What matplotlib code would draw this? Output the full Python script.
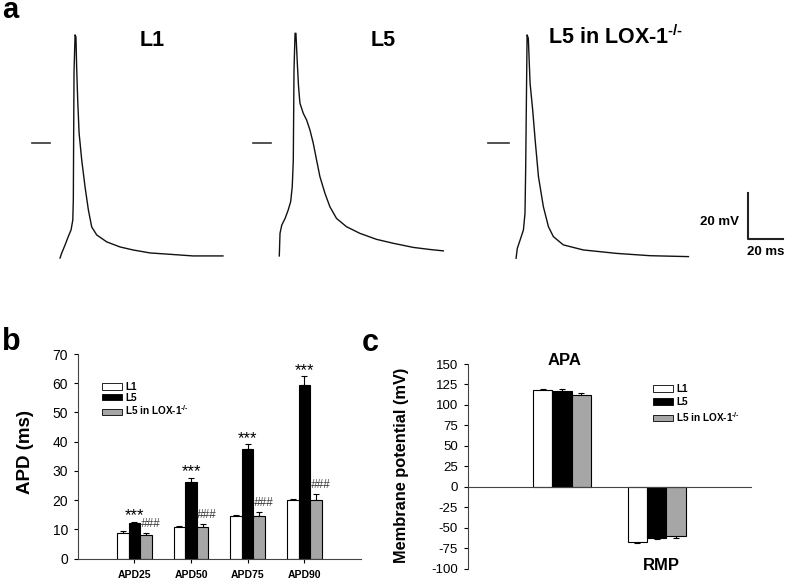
import numpy as np
import matplotlib
matplotlib.use("Agg")
from matplotlib import pyplot as plt
from matplotlib.patches import Patch

plt.rcParams["font.family"] = ["Liberation Sans", "DejaVu Sans"]
plt.rcParams["font.weight"] = "bold"
plt.rcParams["mathtext.fontset"] = "custom"
plt.rcParams["mathtext.rm"] = "Liberation Sans:bold"
plt.rcParams["mathtext.bf"] = "Liberation Sans:bold"
plt.rcParams["mathtext.default"] = "bf"
plt.rcParams["axes.unicode_minus"] = False

# panel a: action potential traces, time (ms) vs voltage (mV)
l1_t = [0, 1.0, 2.9, 4.7, 6.3, 7.3, 7.6, 7.8, 8.0, 8.6, 9.1, 9.5, 10.1, 10.9, 12.4,
        14.3, 16.2, 18.1, 21.0, 26.7, 34.3, 41.7, 51.4, 61.1, 76.0, 93.1]
l1_v = [-50.0, -47.8, -44.3, -40.7, -37.8, -33.5, -24.8, 4.3, 30.9, 47.0, 46.1, 33.0,
        18.7, 4.3, -7.4, -19.1, -29.1, -36.5, -40.0, -43.0, -45.2, -46.5, -47.8,
        -48.3, -49.1, -49.1]
l5_t = [0, 0.4, 1.4, 3.3, 5.1, 6.5, 7.4, 8.0, 8.4, 9.0, 9.5, 10.3, 11.0, 11.8, 13.7,
        15.6, 17.5, 19.4, 21.3, 23.2, 26.1, 28.9, 32.7, 38.4, 46.1, 55.6, 65.1, 76.6,
        86.1, 93.7]
l5_v = [-49.1, -39.3, -35.7, -32.8, -29.1, -25.5, -19.0, -7.4, 31.7, 47.7, 47.7, 34.6,
        24.5, 17.3, 12.9, 10.0, 5.7, -0.1, -7.4, -14.6, -21.9, -27.7, -32.8, -36.4,
        -39.3, -41.9, -43.6, -45.4, -46.3, -46.9]
lox_t = [0, 0.7, 2.3, 4.2, 5.1, 5.5, 5.9, 6.3, 7.0, 8.0, 9.5, 10.9, 12.8, 15.6, 18.5,
         21.3, 27.0, 38.4, 57.5, 76.6, 98.5]
lox_v = [-50.1, -45.8, -42.2, -37.8, -30.6, -10.3, 18.7, 47.0, 45.5, 26.0, 14.3, 1.3,
         -14.7, -27.7, -36.4, -40.7, -44.3, -46.5, -48.0, -49.0, -49.4]
trace_names = ["L1", "L5", r"L5 in LOX-1$^{\text{-/-}}$"]

# panel b: APD (ms)
apd_groups = ["APD25", "APD50", "APD75", "APD90"]
apd_l1 = [8.7, 10.8, 14.5, 20.0]
apd_l1_err = [0.8, 0.3, 0.3, 0.5]
apd_l5 = [12.3, 26.2, 37.5, 59.5]
apd_l5_err = [0.3, 1.5, 1.7, 2.9]
apd_lox = [8.0, 10.8, 14.7, 20.0]
apd_lox_err = [0.7, 0.9, 1.1, 2.0]

# panel c: membrane potential (mV)
mp_groups = ["APA", "RMP"]
mp_l1 = [118.2, -66.9]
mp_l1_err = [0.8, 1.2]
mp_l5 = [117.4, -62.8]
mp_l5_err = [1.6, 0.8]
mp_lox = [112.1, -60.3]
mp_lox_err = [2.5, 2.0]

series_names = ["L1", "L5", r"L5 in LOX-1$^{\text{-/-}}$"]
colors = ["white", "black", "#a6a6a6"]

W, H = 787, 579
fig = plt.figure(figsize=(W / 100, H / 100), dpi=100)


def px(x, y):
    return x / W, 1 - y / H


# ---- panel a
ax_a = fig.add_axes([0, 1 - 290 / H, 1, 290 / H])
ax_a.set_xlim(0, W * 20 / 35)
ax_a.set_ylim(-(290 - 143) * 20 / 46, 143 * 20 / 46)
ax_a.axis("off")
offsets = [34.3, 159.6, 294.9]
zero_marks = [(18.3, 28.6), (144.4, 154.7), (279.0, 291.0)]
for (t, v), off, zm in zip([(l1_t, l1_v), (l5_t, l5_v), (lox_t, lox_v)], offsets, zero_marks):
    ax_a.plot(np.array(t) + off, v, color="#111111", lw=1.0)
    ax_a.plot(zm, [0, 0], color="#333333", lw=1.2)
# scale bar 20 mV / 20 ms
ax_a.plot([427.4, 427.4, 447.4], [-21.7, -41.7, -41.7], color="#222222", lw=1.5)
fig.text(*px(739, 222), "20 mV", ha="right", va="center", fontsize=9.5)
fig.text(*px(747, 252), "20 ms", ha="left", va="center", fontsize=9.5)

fig.text(*px(152, 40), trace_names[0], ha="center", va="center", fontsize=15.5)
fig.text(*px(383, 40), trace_names[1], ha="center", va="center", fontsize=15.5)
fig.text(*px(548, 37), trace_names[2], ha="left", va="center", fontsize=15.5)
fig.text(*px(2, 18), "a", ha="left", va="baseline", fontsize=21)

# ---- panel b
ax_b = fig.add_axes([77.7 / W, 1 - 558.7 / H, 283.3 / W, 204.7 / H])
xb = np.arange(len(apd_groups))
w = 0.205
for k, (vals, errs) in enumerate([(apd_l1, apd_l1_err), (apd_l5, apd_l5_err),
                                 (apd_lox, apd_lox_err)]):
    pos = xb + (k - 1) * w
    ax_b.bar(pos, vals, w, color=colors[k], edgecolor="black", lw=0.8, zorder=2)
    ax_b.errorbar(pos, vals, yerr=[np.zeros(len(vals)), errs], fmt="none",
                  ecolor="black", elinewidth=0.8, capsize=2.5, capthick=0.8, zorder=1)
for i in range(len(apd_groups)):
    ax_b.text(xb[i], apd_l5[i] + apd_l5_err[i] + 2.0, "***", ha="center", va="center",
              fontsize=12, fontweight="normal")
    ax_b.text(xb[i] + 0.11, apd_lox[i] + apd_lox_err[i] + 3.3, "###", ha="left",
              va="center", fontsize=8.5, fontweight="normal", style="italic",
              color="#3a3a3a")
ax_b.set_xlim(-1, 4)
ax_b.set_ylim(0, 70)
ax_b.set_yticks(range(0, 71, 10))
ax_b.set_xticks(xb)
ax_b.set_xticklabels(apd_groups, fontsize=7.5)
ax_b.tick_params(axis="y", labelsize=10, length=3, width=0.8, pad=4)
ax_b.tick_params(axis="x", length=3, width=0.8, pad=5)
for lab in ax_b.get_yticklabels():
    lab.set_fontweight("normal")
for s in ["top", "right"]:
    ax_b.spines[s].set_visible(False)
for s in ["left", "bottom"]:
    ax_b.spines[s].set_linewidth(0.8)
    ax_b.spines[s].set_color("#444444")
fig.text(*px(25, 452), "APD (ms)", rotation=90, ha="center", va="center", fontsize=13.5)
fig.text(*px(2, 350), "b", ha="left", va="baseline", fontsize=22)
handles = [Patch(facecolor=c, edgecolor="black", lw=0.6) for c in colors]
ax_b.legend(handles, series_names, loc="upper left", bbox_to_anchor=px(101.7, 382),
            bbox_transform=fig.transFigure, frameon=False, fontsize=7.2,
            handlelength=2.0, handleheight=0.6, handletextpad=0.35, labelspacing=0.08,
            borderpad=0, borderaxespad=0)

# ---- panel c
ax_c = fig.add_axes([467.7 / W, 1 - 568.7 / H, 283.3 / W, 204.7 / H])
xc = np.arange(len(mp_groups))
for k, (vals, errs) in enumerate([(mp_l1, mp_l1_err), (mp_l5, mp_l5_err),
                                 (mp_lox, mp_lox_err)]):
    pos = xc + (k - 1) * w
    vals = np.array(vals)
    errs = np.array(errs)
    lo = np.where(vals < 0, errs, 0)
    hi = np.where(vals > 0, errs, 0)
    ax_c.bar(pos, vals, w, color=colors[k], edgecolor="black", lw=0.8, zorder=2)
    ax_c.errorbar(pos, vals, yerr=[lo, hi], fmt="none", ecolor="black",
                  elinewidth=0.8, capsize=2.5, capthick=0.8, zorder=1)
ax_c.text(0.02, 154.7, mp_groups[0], ha="center", va="center", fontsize=12,
          clip_on=False)
ax_c.text(1.05, -95.6, mp_groups[1], ha="center", va="center", fontsize=12,
          clip_on=False)
ax_c.set_xlim(-1, 2)
ax_c.set_ylim(-100, 150)
ax_c.set_yticks(range(-100, 151, 25))
ax_c.set_xticks([])
ax_c.tick_params(axis="y", labelsize=9.5, length=3, width=0.8, pad=4)
for lab in ax_c.get_yticklabels():
    lab.set_fontweight("normal")
for s in ["top", "right"]:
    ax_c.spines[s].set_visible(False)
ax_c.spines["bottom"].set_position(("data", 0))
for s in ["left", "bottom"]:
    ax_c.spines[s].set_linewidth(0.8)
    ax_c.spines[s].set_color("#444444")
fig.text(*px(401.7, 465), "Membrane potential (mV)", rotation=90, ha="center",
         va="center", fontsize=11.8)
fig.text(*px(362, 351), "c", ha="left", va="baseline", fontsize=22)
ax_c.legend(handles, series_names, loc="upper left", bbox_to_anchor=px(652.7, 384),
            bbox_transform=fig.transFigure, frameon=False, fontsize=7.2,
            handlelength=2.0, handleheight=0.6, handletextpad=0.35, labelspacing=0.3,
            borderpad=0, borderaxespad=0)

fig.savefig("out.png", dpi=100)
